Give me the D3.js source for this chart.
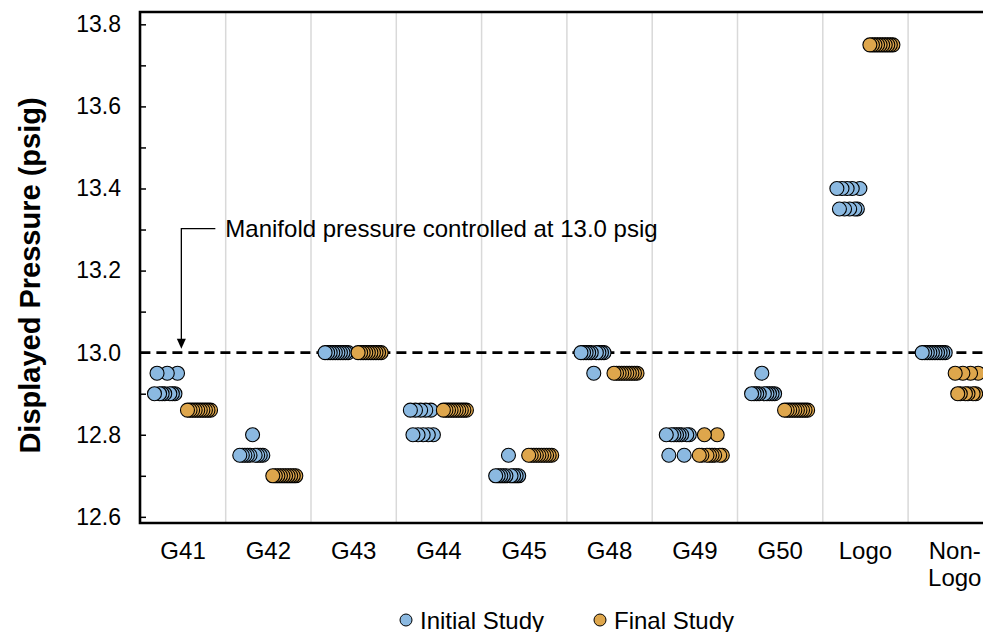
<!DOCTYPE html>
<html>
<head>
<meta charset="utf-8">
<script src="https://cdn.jsdelivr.net/npm/d3@7"></script>
<style>
  body { margin: 0; background: #fff; }
  text { font-family: "Liberation Sans", Arial, sans-serif; fill: #000; }
</style>
</head>
<body>
<svg></svg>
<script>
///////////////////////////////////////////
// Data (psig readings, in measurement order)
var categories = ["G41", "G42", "G43", "G44", "G45", "G48", "G49", "G50", "Logo", "Non-Logo"];

var initialStudy = [
  [12.90, 12.95, 12.90, 12.90, 12.90, 12.95, 12.90, 12.90, 12.90, 12.95],
  [12.75, 12.75, 12.75, 12.75, 12.75, 12.80, 12.75, 12.75, 12.75, 12.75],
  [13.00, 13.00, 13.00, 13.00, 13.00, 13.00, 13.00, 13.00, 13.00, 13.00],
  [12.86, 12.80, 12.86, 12.80, 12.86, 12.80, 12.86, 12.80, 12.86, 12.80],
  [12.70, 12.70, 12.70, 12.70, 12.70, 12.75, 12.70, 12.70, 12.70, 12.70],
  [13.00, 13.00, 13.00, 13.00, 13.00, 12.95, 13.00, 13.00, 13.00, 13.00],
  [12.80, 12.75, 12.80, 12.80, 12.80, 12.80, 12.80, 12.75, 12.80, 12.80],
  [12.90, 12.90, 12.90, 12.90, 12.95, 12.90, 12.90, 12.90, 12.90, 12.90],
  [13.40, 13.35, 13.40, 13.35, 13.40, 13.35, 13.40, 13.35, 13.35, 13.40],
  [13.00, 13.00, 13.00, 13.00, 13.00, 13.00, 13.00, 13.00, 13.00, 13.00]
];

var finalStudy = [
  [12.86, 12.86, 12.86, 12.86, 12.86, 12.86, 12.86, 12.86, 12.86, 12.86],
  [12.70, 12.70, 12.70, 12.70, 12.70, 12.70, 12.70, 12.70, 12.70, 12.70],
  [13.00, 13.00, 13.00, 13.00, 13.00, 13.00, 13.00, 13.00, 13.00, 13.00],
  [12.86, 12.86, 12.86, 12.86, 12.86, 12.86, 12.86, 12.86, 12.86, 12.86],
  [12.75, 12.75, 12.75, 12.75, 12.75, 12.75, 12.75, 12.75, 12.75, 12.75],
  [12.95, 12.95, 12.95, 12.95, 12.95, 12.95, 12.95, 12.95, 12.95, 12.95],
  [12.75, 12.75, 12.80, 12.75, 12.75, 12.75, 12.75, 12.80, 12.75, 12.75],
  [12.86, 12.86, 12.86, 12.86, 12.86, 12.86, 12.86, 12.86, 12.86, 12.86],
  [13.75, 13.75, 13.75, 13.75, 13.75, 13.75, 13.75, 13.75, 13.75, 13.75],
  [12.95, 12.90, 12.90, 12.95, 12.90, 12.90, 12.95, 12.90, 12.90, 12.95]
];

var seriesNames = ["Initial Study", "Final Study"];
var yTickValues = [12.6, 12.7, 12.8, 12.9, 13.0, 13.1, 13.2, 13.3, 13.4, 13.5, 13.6, 13.7, 13.8];
var controlPressure = 13.0;
var annotationText = "Manifold pressure controlled at 13.0 psig";

///////////////////////////////////////////
// Layout
var svgWidth = 983, svgHeight = 632;
var margin = {top: 12, left: 140, bottom: 109},
    plotBottom = svgHeight - margin.bottom,
    plotRight = 993.4;

var colors = ["#8bb9e1", "#dea64c"];
var groupOffset = [-0.335, 0.052], // where each study's run starts, in category units
    readingStep = 0.03;

var svg = d3.select("svg").attr("width", svgWidth).attr("height", svgHeight);

var x = d3.scaleLinear().domain([-0.5, categories.length - 0.5]).range([margin.left + 0.4, plotRight]);
var y = d3.scaleLinear().domain([12.585, 13.83]).range([plotBottom, margin.top]);

// vertical gridlines between categories
svg.append("g").selectAll("line")
  .data(d3.range(categories.length - 1))
  .join("line")
  .attr("x1", function(k){ return x(k + 0.5); })
  .attr("x2", function(k){ return x(k + 0.5); })
  .attr("y1", margin.top).attr("y2", plotBottom)
  .attr("stroke", "#d9d9d9").attr("stroke-width", 1.5);

// control pressure line
svg.append("line")
  .attr("x1", x.range()[0]).attr("x2", x.range()[1])
  .attr("y1", y(controlPressure)).attr("y2", y(controlPressure))
  .attr("stroke", "#000").attr("stroke-width", 2.6)
  .attr("stroke-dasharray", "10,6");

// y axis with inward ticks
var yAxis = d3.axisLeft(y)
  .tickValues(yTickValues)
  .tickSize(-6)
  .tickPadding(19)
  .tickFormat(function(d){ return Math.round(d * 10) % 2 === 0 ? d3.format(".1f")(d) : ""; });

var gy = svg.append("g").attr("transform", "translate(" + margin.left + ",0)").call(yAxis);
gy.select(".domain").remove();
gy.selectAll(".tick line").attr("stroke", "#000").attr("stroke-width", 1.5);
gy.selectAll(".tick text").attr("font-size", 23).attr("font-family", null);

// plot frame
svg.append("path")
  .attr("d", "M" + x.range()[1] + "," + margin.top + "H" + margin.left + "V" + plotBottom + "H" + x.range()[1])
  .attr("fill", "none").attr("stroke", "#000").attr("stroke-width", 2.6);

// y title
svg.append("text")
  .attr("transform", "translate(30," + ((margin.top + plotBottom) / 2 + 8) + ") rotate(-90)")
  .attr("text-anchor", "middle")
  .attr("dominant-baseline", "central")
  .attr("font-size", 29).attr("font-weight", "bold")
  .text("Displayed Pressure (psig)");

// category labels
var xl = svg.append("g").selectAll("text")
  .data(categories)
  .join("text")
  .attr("text-anchor", "middle")
  .attr("font-size", 24)
  .attr("transform", function(d, k){ return "translate(" + x(k) + "," + (plotBottom + 36) + ")"; });
xl.each(function(d){
  var parts = d.indexOf("-") > 0 ? [d.slice(0, d.indexOf("-") + 1), d.slice(d.indexOf("-") + 1)] : [d];
  d3.select(this).selectAll("tspan").data(parts).join("tspan")
    .attr("x", 0).attr("dx", parts.length > 1 ? 4 : 0)
    .attr("y", function(p, j){ return j * 27; })
    .text(function(p){ return p; });
});

// annotation with arrow
var ax = x(-0.02), ay = y(13.3) - 1;
svg.append("path")
  .attr("d", "M" + (ax + 34) + "," + ay + "H" + ax + "V" + (y(controlPressure) - 12))
  .attr("fill", "none").attr("stroke", "#000").attr("stroke-width", 1.3);
svg.append("path")
  .attr("d", "M" + (ax - 4.5) + "," + (y(controlPressure) - 14) + "L" + (ax + 4.5) + "," + (y(controlPressure) - 14) +
             "L" + ax + "," + (y(controlPressure) - 4) + "Z")
  .attr("fill", "#000");
svg.append("text")
  .attr("x", ax + 44).attr("y", ay + 8)
  .attr("font-size", 24)
  .text(annotationText);

///////////////////////////////////////////
// Points: each reading sits at its own step along the run, leftmost drawn on top
var points = [];
[initialStudy, finalStudy].forEach(function(study, s){
  study.forEach(function(readings, k){
    readings.forEach(function(v, i){
      points.push({study: s, cat: k, idx: i, value: v});
    });
  });
});
points.sort(function(a, b){ return (a.study - b.study) || (a.cat - b.cat) || (b.idx - a.idx); });

svg.append("g").selectAll("circle")
  .data(points)
  .join("circle")
  .attr("cx", function(d){ return x(d.cat + groupOffset[d.study] + d.idx * readingStep); })
  .attr("cy", function(d){ return y(d.value); })
  .attr("r", 7)
  .attr("fill", function(d){ return colors[d.study]; })
  .attr("stroke", "#000").attr("stroke-width", 1.1);

///////////////////////////////////////////
// Legend
var legend = svg.append("g").selectAll("g")
  .data(seriesNames)
  .join("g")
  .attr("transform", function(d, i){ return "translate(" + [406 + i * 194, 620] + ")"; });
legend.append("circle").attr("r", 6)
  .attr("fill", function(d, i){ return colors[i]; })
  .attr("stroke", "#000").attr("stroke-width", 1);
legend.append("text").attr("x", 14).attr("y", 8.5)
  .attr("font-size", 24)
  .text(function(d){ return d; });
</script>
</body>
</html>
